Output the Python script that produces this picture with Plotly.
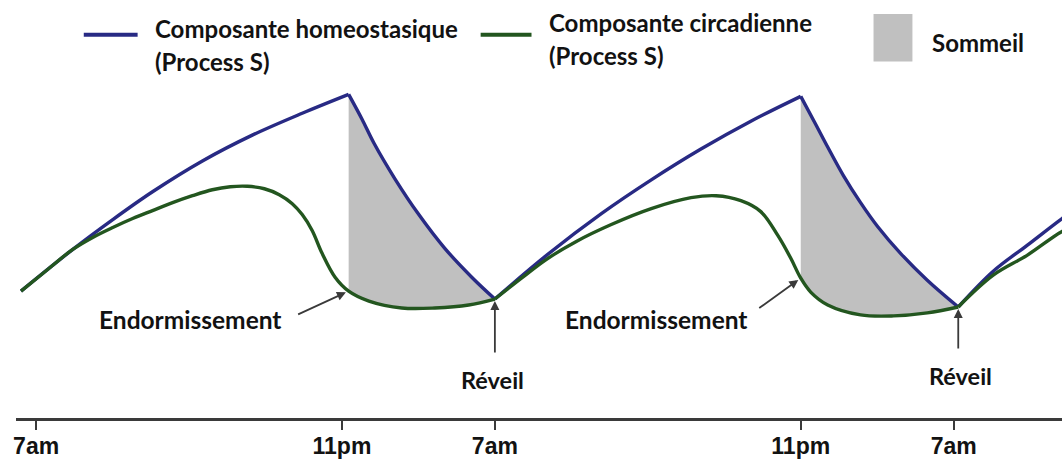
import plotly.graph_objects as go

# ---------------- data (hours since first 7am, arbitrary pressure units) ----------------
TICK_HOURS = [0, 16, 24, 40, 48]
TICK_LABELS = ["7am", "11pm", "7am", "11pm", "7am"]

SLEEP_ONSET = [16.35, 40.0]
WAKE_TIME = [24.0, 48.24]

HOMEO_T = [-0.79, 1.92, 4.01, 6.09, 8.70, 11.31, 13.92, 16.35,
           17.05, 17.67, 18.77, 20.02, 21.38, 22.79, 24.0,
           26.70, 29.57, 32.18, 34.78, 37.39, 40.0,
           40.78, 41.41, 42.24, 43.13, 44.02, 45.22, 46.62, 48.24,
           50.07, 51.84, 53.67, 54.35]
HOMEO_V = [12.9, 17.1, 20.1, 22.9, 26.0, 28.6, 30.8, 32.7,
           30.2, 27.8, 24.2, 20.6, 17.2, 14.3, 12.1,
           16.5, 20.7, 24.1, 27.2, 30.0, 32.5,
           29.7, 27.4, 24.5, 21.8, 19.4, 16.7, 14.0, 11.3,
           14.9, 17.5, 20.2, 21.1]

CIRC_T = [-0.79, 0.62, 1.92, 2.96, 4.01, 5.05, 6.09, 7.14, 8.18, 9.22, 10.16, 11.05, 11.94,
          12.72, 13.40, 13.92, 14.44, 14.96, 15.64, 16.35,
          17.41, 19.13, 20.86, 22.63, 24.0,
          25.39, 26.70, 28.26, 30.09, 32.18, 34.26, 35.57, 36.87, 37.91, 38.80, 39.48, 40.0,
          40.52, 41.41, 43.13, 44.86, 46.62, 48.24,
          50.07, 51.84, 53.67, 54.35]
CIRC_V = [12.9, 15.1, 17.1, 18.3, 19.3, 20.2, 21.0, 21.8, 22.5, 23.1, 23.4, 23.45, 23.2,
          22.6, 21.7, 20.6, 19.0, 16.7, 14.3, 12.9,
          11.9, 11.2, 11.2, 11.5, 12.1,
          14.2, 16.1, 17.9, 19.6, 21.2, 22.3, 22.5, 22.0, 20.9, 18.5, 16.2, 14.2,
          12.8, 11.5, 10.5, 10.4, 10.7, 11.3,
          14.5, 16.5, 18.9, 19.4]

# ---------------- styling ----------------
W, H = 1062, 459
BLUE = "#282a84"
GREEN = "#23561f"
GREY = "#c0c0c0"
TXT = "#121212"
TXT_FONT = "Lato"
AX_PX_LEFT, AX_PX_Y = 13, 422
PX0, PX_PER_H = 33.2, 19.17  # pixel of hour 0, pixels per hour
V_SCALE = 10.0


def px_x(px):
    return px / W


def px_y(py):
    return 1 - py / H


def split(ts, vs, cuts):
    segs, cur_t, cur_v = [], [], []
    for t, v in zip(ts, vs):
        cur_t.append(t)
        cur_v.append(v)
        if any(abs(t - c) < 1e-9 for c in cuts) and len(cur_t) > 1:
            segs.append((cur_t, cur_v))
            cur_t, cur_v = [t], [v]
    if len(cur_t) > 1:
        segs.append((cur_t, cur_v))
    return segs


def window(ts, vs, a, b):
    pts = [(t, v) for t, v in zip(ts, vs) if a - 1e-9 <= t <= b + 1e-9]
    return [p[0] for p in pts], [p[1] for p in pts]


def value_at(ts, vs, t0):
    for t, v in zip(ts, vs):
        if abs(t - t0) < 1e-9:
            return v
    return None


fig = go.Figure()

# sleep shading between the two curves
for a, b in zip(SLEEP_ONSET, WAKE_TIME):
    ct, cv = window(CIRC_T, CIRC_V, a, b)
    ht, hv = window(HOMEO_T, HOMEO_V, a, b)
    fig.add_trace(go.Scatter(x=ct, y=cv, mode="lines", line=dict(width=0, shape="spline"),
                             hoverinfo="skip", showlegend=False))
    fig.add_trace(go.Scatter(x=ht, y=hv, mode="lines", line=dict(width=0, shape="spline"),
                             fill="tonexty", fillcolor=GREY, hoverinfo="skip", showlegend=False))

# homeostatic component
for st, sv in split(HOMEO_T, HOMEO_V, SLEEP_ONSET + WAKE_TIME):
    fig.add_trace(go.Scatter(x=st, y=sv, mode="lines",
                             line=dict(color=BLUE, width=3.4, shape="spline"),
                             showlegend=False, name="Composante homeostasique"))

# circadian component
for st, sv in split(CIRC_T, CIRC_V, WAKE_TIME):
    fig.add_trace(go.Scatter(x=st, y=sv, mode="lines",
                             line=dict(color=GREEN, width=3.4, shape="spline"),
                             showlegend=False, name="Composante circadienne"))

x_lo = (AX_PX_LEFT - PX0) / PX_PER_H
x_hi = (W - PX0) / PX_PER_H

fig.update_layout(
    width=W, height=H,
    margin=dict(l=0, r=0, t=0, b=0),
    paper_bgcolor="white", plot_bgcolor="white",
    xaxis=dict(domain=[px_x(AX_PX_LEFT), 1], range=[x_lo, x_hi],
               anchor="free", position=px_y(AX_PX_Y),
               showline=True, linecolor="#3a3a3a", linewidth=2.5,
               ticks="outside", ticklen=9, tickwidth=2, tickcolor="#3a3a3a",
               tickvals=TICK_HOURS, ticktext=TICK_LABELS,
               tickfont=dict(family="Liberation Sans", size=23, color=TXT, weight="bold"),
               ticklabelstandoff=-4,
               showgrid=False, zeroline=False, fixedrange=True),
    yaxis=dict(range=[(AX_PX_Y - H) / V_SCALE, AX_PX_Y / V_SCALE], visible=False,
               showgrid=False, zeroline=False, fixedrange=True),
)

# legend-like header
shapes = [
    dict(type="line", xref="paper", yref="paper", x0=px_x(81), x1=px_x(135), y0=px_y(35), y1=px_y(35),
         line=dict(color=BLUE, width=4)),
    dict(type="line", xref="paper", yref="paper", x0=px_x(479), x1=px_x(530), y0=px_y(35), y1=px_y(35),
         line=dict(color=GREEN, width=4)),
    dict(type="rect", xref="paper", yref="paper", x0=px_x(873), x1=px_x(912), y0=px_y(62), y1=px_y(14),
         fillcolor=GREY, line=dict(width=0)),
]
fig.update_layout(shapes=shapes)


def label(text, x, y, size, xanchor="left"):
    fig.add_annotation(text=text, xref="paper", yref="paper", x=px_x(x), y=px_y(y),
                       xanchor=xanchor, yanchor="middle", showarrow=False,
                       font=dict(family=TXT_FONT, size=size, color=TXT, weight="bold"))


label("Composante homeostasique", 150, 29, 24)
label("(Process S)", 150, 62, 24)
label("Composante circadienne", 546, 23, 24)
label("(Process S)", 546, 56, 24)
label("Sommeil", 930, 43, 24)
label("Endormissement", 188, 322, 24.5, "center")
label("Endormissement", 655, 322, 24.5, "center")
label("Réveil", 491, 383, 23.5, "center")
label("Réveil", 960, 378, 23.5, "center")

# arrows
ARROW_TAILS_ONSET = [(-52, 24), (-43, 31)]
ARROW_TAILS_WAKE = [(0, 55), (0, 43)]
for t0, (ax, ay) in zip(SLEEP_ONSET, ARROW_TAILS_ONSET):
    fig.add_annotation(x=t0, y=value_at(CIRC_T, CIRC_V, t0), xref="x", yref="y", text="",
                       showarrow=True, ax=ax, ay=ay, axref="pixel", ayref="pixel",
                       arrowhead=2, arrowsize=1, arrowwidth=1.8, arrowcolor="#3a3a3a", standoff=3)
for t0, (ax, ay) in zip(WAKE_TIME, ARROW_TAILS_WAKE):
    fig.add_annotation(x=t0, y=value_at(CIRC_T, CIRC_V, t0), xref="x", yref="y", text="",
                       showarrow=True, ax=ax, ay=ay, axref="pixel", ayref="pixel",
                       arrowhead=2, arrowsize=1, arrowwidth=1.8, arrowcolor="#3a3a3a", standoff=2)

fig.write_html("out.html", config={"displayModeBar": False},
               post_script="document.body.style.margin='0px';document.body.style.overflow='hidden';")
